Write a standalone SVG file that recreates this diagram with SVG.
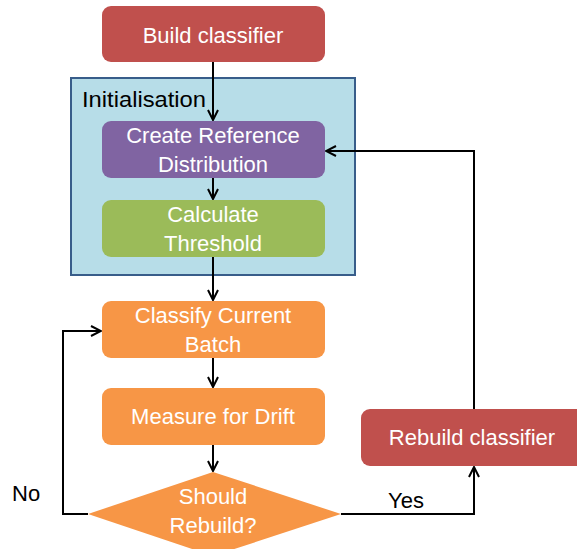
<svg xmlns="http://www.w3.org/2000/svg" width="577" height="549" viewBox="0 0 577 549">
<style>
.box{stroke:none}
.t{font-family:"Liberation Sans",Arial,sans-serif;font-size:22px;fill:#fff;text-anchor:middle}
.lbl{font-family:"Liberation Sans",Arial,sans-serif;font-size:22px;fill:#000}
.c{fill:none;stroke:#000;stroke-width:2}
</style>
<defs>
<marker id="ah" viewBox="0 0 12 12" refX="11" refY="6" markerWidth="12" markerHeight="12" markerUnits="userSpaceOnUse" orient="auto">
<path d="M1,1 L11,6 L1,11" fill="none" stroke="#000" stroke-width="2"/>
</marker>
</defs>
<rect width="577" height="549" fill="#fff"/>
<g id="initialisation">
<rect x="71" y="78" width="284" height="197" fill="#B7DDE8" stroke="#385D8A" stroke-width="2"/>
<text class="lbl" x="82" y="107" textLength="124" lengthAdjust="spacingAndGlyphs">Initialisation</text>
</g>
<g id="connectors">
<path class="c" d="M213,62 V120" marker-end="url(#ah)"/>
<path class="c" d="M213,178 V199" marker-end="url(#ah)"/>
<path class="c" d="M213,257 V300" marker-end="url(#ah)"/>
<path class="c" d="M213,358 V387" marker-end="url(#ah)"/>
<path class="c" d="M213,445 V471" marker-end="url(#ah)"/>
<path class="c" d="M88,514 H63 V331 H101" marker-end="url(#ah)"/>
<path class="c" d="M341,514 H474 V467" marker-end="url(#ah)"/>
<path class="c" d="M474,409 V151 H326" marker-end="url(#ah)"/>
<text class="lbl" x="12" y="501">No</text>
<text class="lbl" x="388" y="508">Yes</text>
</g>
<g id="build">
<rect class="box" x="102" y="6" width="223" height="56" rx="9" fill="#C0504D"/>
<text class="t" x="213" y="43">Build classifier</text>
</g>
<g id="create-ref">
<rect class="box" x="102" y="121" width="223" height="57" rx="9" fill="#8064A2"/>
<text class="t" x="213" y="143">Create Reference</text>
<text class="t" x="213" y="172">Distribution</text>
</g>
<g id="calc-threshold">
<rect class="box" x="102" y="200" width="223" height="57" rx="9" fill="#9BBB59"/>
<text class="t" x="213" y="222">Calculate</text>
<text class="t" x="213" y="251">Threshold</text>
</g>
<g id="classify">
<rect class="box" x="102" y="301" width="223" height="57" rx="9" fill="#F79646"/>
<text class="t" x="213" y="323">Classify Current</text>
<text class="t" x="213" y="352">Batch</text>
</g>
<g id="measure">
<rect class="box" x="102" y="388" width="223" height="57" rx="9" fill="#F79646"/>
<text class="t" x="213" y="424">Measure for Drift</text>
</g>
<g id="decision">
<polygon points="213,472 341,514 213,556 88,514" fill="#F79646"/>
<text class="t" x="213" y="504">Should</text>
<text class="t" x="213" y="533">Rebuild?</text>
</g>
<g id="rebuild">
<rect class="box" x="361" y="409" width="230" height="57" rx="9" fill="#C0504D"/>
<text class="t" x="472" y="445">Rebuild classifier</text>
</g>
</svg>
